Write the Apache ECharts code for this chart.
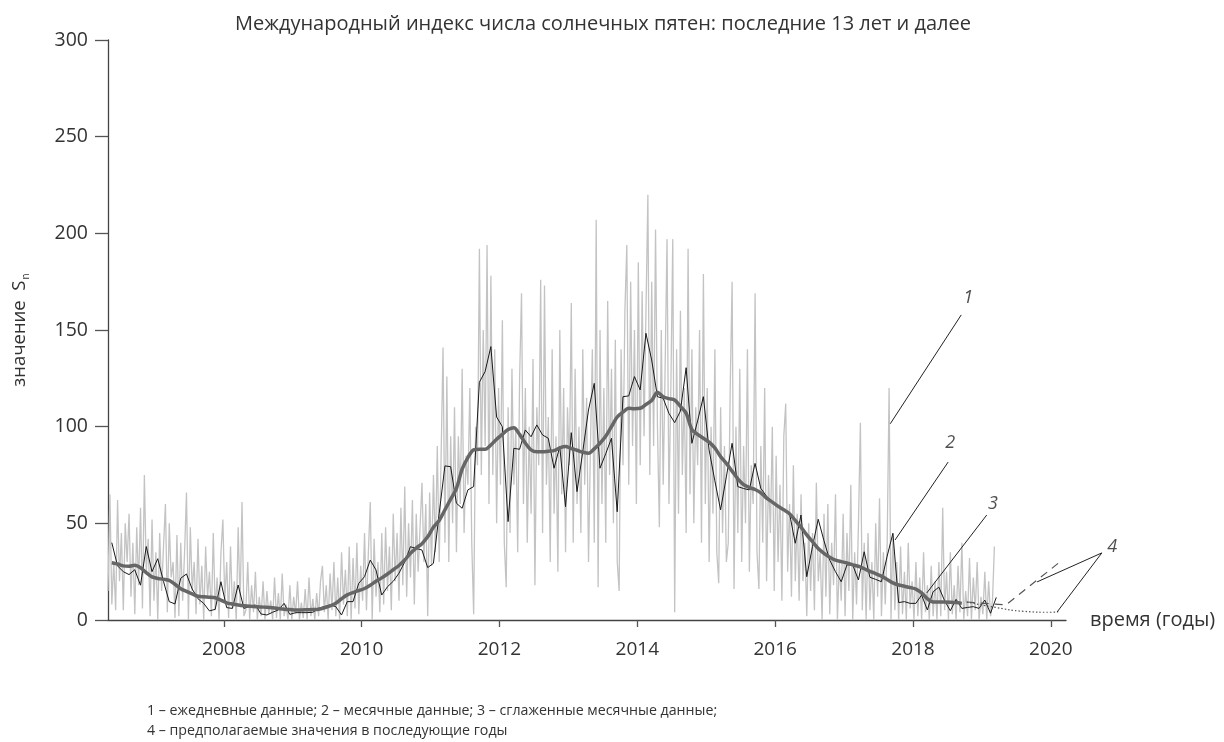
<!DOCTYPE html>
<html>
<head>
<meta charset="utf-8">
<script src="https://cdn.jsdelivr.net/npm/echarts@6/dist/echarts.min.js"></script>
<style>
  html, body { margin: 0; padding: 0; background: #fff; }
  #chart { width: 1224px; height: 742px; }
</style>
</head>
<body>
<div id="chart"></div>
<script>
// 1 – daily values, one every 1/36 year starting at dayStart
const dayStart = 2006.32;
const dailyValues = [
  15, 65, 8, 30, 5, 62, 20, 45, 5, 50, 30, 55, 12, 40, 3, 48, 18, 58, 6, 75, 25, 42, 2, 52, 10, 35, 0, 45, 15, 38, 60, 4, 50, 22, 30, 1,
  44, 2, 40, 10, 35, 66, 0, 48, 15, 30, 3, 42, 8, 28, 0, 38, 12, 25, 2, 45, 5, 22, 0, 35, 52, 10, 30, 1, 38, 6, 20, 0, 48, 8, 61, 2,
  5, 30, 0, 18, 4, 25, 0, 12, 2, 20, 0, 15, 3, 10, 0, 22, 1, 14, 0, 24, 2, 8, 0, 18, 0, 12, 3, 20, 0, 9, 1, 16, 0, 22, 2, 11,
  0, 14, 2, 20, 28, 4, 18, 0, 24, 5, 30, 2, 22, 0, 35, 8, 26, 2, 38, 0, 32, 6, 40, 3, 28, 10, 45, 5, 35, 61, 0, 42, 12, 30, 4, 45,
  8, 48, 15, 38, 5, 55, 20, 45, 10, 58, 18, 69, 12, 50, 22, 62, 8, 55, 25, 48, 71, 30, 60, 2, 66, 28, 75, 35, 90, 30, 85, 141, 40, 126, 30, 95,
  50, 110, 35, 95, 60, 130, 45, 85, 70, 120, 40, 3, 100, 80, 192, 75, 150, 90, 194, 60, 178, 75, 140, 50, 120, 70, 155, 40, 17, 110, 45, 130, 70, 100, 35, 125,
  169, 60, 120, 40, 100, 55, 135, 18, 110, 80, 176, 45, 173, 70, 105, 30, 140, 55, 95, 25, 150, 65, 120, 35, 110, 80, 164, 40, 130, 60, 100, 45, 140, 70, 115, 30,
  90, 140, 40, 207, 17, 150, 60, 120, 40, 165, 75, 130, 50, 145, 30, 15, 140, 80, 160, 194, 70, 175, 90, 150, 60, 185, 80, 170, 95, 160, 220, 75, 175, 90, 202, 100,
  48, 150, 70, 130, 197, 60, 120, 197, 4, 140, 55, 160, 75, 120, 45, 192, 65, 140, 50, 110, 80, 150, 40, 179, 60, 120, 30, 100, 55, 140, 35, 19, 110, 45, 90, 30,
  40, 120, 175, 16, 100, 45, 130, 30, 90, 50, 140, 25, 80, 60, 169, 35, 16, 90, 40, 120, 20, 75, 45, 100, 15, 85, 30, 70, 10, 95, 112, 25, 60, 12, 80, 20,
  55, 10, 65, 20, 40, 2, 50, 15, 45, 5, 71, 20, 35, 0, 55, 12, 60, 3, 40, 18, 65, 0, 30, 10, 55, 2, 45, 15, 70, 0, 35, 8, 50, 102, 5, 40,
  0, 45, 5, 30, 0, 50, 12, 63, 2, 35, 8, 40, 120, 0, 45, 5, 30, 0, 38, 3, 25, 0, 40, 6, 20, 0, 30, 2, 22, 0, 35, 4, 18, 0, 28, 2,
  20, 0, 30, 2, 58, 5, 25, 0, 35, 3, 18, 0, 28, 4, 40, 0, 15, 2, 32, 0, 22, 5, 30, 0, 12, 3, 25, 0, 20, 2, 10, 38
];

// 2 – monthly values, one per month starting at monthStart
const monthStart = 2006.375;
const monthlyValues = [
  40, 28, 25, 23.5, 26, 18, 38, 25, 31.7, 20, 9.5, 8.3, 21.6, 23.8, 16, 11, 8.6, 4.7, 5.5, 19.8,
  6.4, 6, 18.1, 6, 7, 7.8, 3.1, 2.6, 4, 5.2, 8.6, 2.9, 3.8, 3.8, 3.8, 4, 6, 7, 7.8, 6.9,
  2.6, 9.5, 9.5, 19, 22.4, 31, 25.9, 12.9, 17.2, 20, 24.2, 30, 37.9, 37, 36.2, 27.1, 29.3, 55, 79.7, 79.3,
  60.4, 57.8, 67.3, 69, 123, 128.5, 141.4, 105, 100, 50.9, 88.8, 88.3, 98.3, 94.8, 100.9, 95.7, 94, 78.5, 89.7, 58.6,
  96.9, 66.4, 87, 108.6, 122.4, 78.5, 86, 94, 56, 115.5, 115.9, 125.9, 119, 148.3, 134.5, 115.5, 114.7, 106.9, 102.1, 108,
  130.5, 91.4, 103, 115.5, 88, 72, 57, 74, 91.4, 69, 68, 67.3, 81, 68.1, 64, 61.2, 58.6, 57, 55.2, 39.7,
  54.3, 22.4, 38, 52.1, 41, 31, 25, 19.8, 28.5, 28.5, 20.7, 35.3, 22.1, 21, 19.8, 33, 44.8, 9, 9.5, 8.6,
  8.6, 12.9, 5.2, 14.6, 17, 10, 4.8, 10.7, 6, 6.5, 6.9, 6, 10.3, 3.5, 11.7
];

// 3 – smoothed monthly values, same months
const smoothedValues = [
  29.6, 29, 28, 27.8, 28.3, 27, 24.5, 22.3, 21.5, 21.1, 20.5, 18.5, 16.2, 14.8, 13.5, 12.3, 12, 11.8, 11.5, 10.3,
  8.9, 8.3, 7.8, 7.4, 7.1, 6.9, 6.7, 6.6, 6.3, 5.9, 5.5, 5.4, 5.2, 5.2, 5.3, 5.4, 5.6, 6.3, 7.3, 8.7,
  11, 13, 14.2, 15.2, 16.3, 18, 20, 21.8, 23.8, 26, 28.2, 31, 34.5, 37.2, 39.5, 43, 48, 51.5, 57, 62.5,
  68, 78, 84, 88, 88.3, 88.3, 90.5, 93.5, 96, 98.5, 99.5, 96, 91.5, 88, 87, 87, 87.3, 87.6, 89, 89.7,
  88.7, 87.8, 86.8, 86.2, 88.5, 91.4, 95, 100, 105, 107.5, 109.5, 109.3, 109.5, 111.5, 113.5, 117.8, 115.5, 114.5, 113.8, 110.5,
  107, 98.5, 96, 94, 92, 89, 84.5, 81, 77, 73, 70, 68.5, 67.5, 65.8, 63, 61, 58.8, 57, 55, 51.5,
  48, 44, 40.5, 37, 34.5, 32.5, 31, 30.2, 29.5, 28.5, 27.8, 26.5, 25.2, 24, 22.7, 21, 19.2, 18.1, 17.5, 16.8,
  16, 14, 11, 9.3, 9.3, 9.3, 9.2, 9, 8.6
];

// 4 – expected values in the following years
const forecastHigh = [[2018.78, 9.3], [2019.35, 7.8], [2020.13, 30]];
const forecastLow = [[2018.78, 9.3], [2019.2, 6.5], [2019.6, 4.5], [2020.0, 4], [2020.12, 4.3]];

const xTicks = [2008, 2010, 2012, 2014, 2016, 2018, 2020];

// callout numbers and their pointer lines (data coordinates)
const calloutLabels = [
  [2018.80, 166.6, '1'],
  [2018.54, 91.6, '2'],
  [2019.16, 60, '3'],
  [2020.89, 37.8, '4']
];
const calloutLines = [
  [[2018.70, 157.8], [2017.67, 101.5]],
  [[2018.51, 81.7], [2017.74, 41.4]],
  [[2019.07, 54.3], [2018.20, 14.0]],
  [[2020.74, 34.7], [2019.80, 19.7]],
  [[2020.74, 34.7], [2020.09, 4.1]]
];

const FONT = '"Open Sans", "Noto Sans", sans-serif';
const TEXT = '#333';

const chart = echarts.init(document.getElementById('chart'));

const option = {
  animation: false,
  backgroundColor: '#fff',
  textStyle: { fontFamily: FONT },
  title: [
    {
      text: 'Международный индекс числа солнечных пятен: последние 13 лет и далее',
      left: 598,
      top: 9,
      textAlign: 'center',
      textStyle: { fontFamily: FONT, fontSize: 20, fontWeight: 'normal', color: TEXT }
    },
    {
      text: '1 – ежедневные данные; 2 – месячные данные; 3 – сглаженные месячные данные;\n4 – предполагаемые значения в последующие годы',
      left: 142,
      top: 696,
      textStyle: { fontFamily: FONT, fontSize: 14.2, fontWeight: 'normal', color: TEXT, lineHeight: 20 }
    }
  ],
  grid: { left: 108, right: 158, top: 40, bottom: 122 },
  xAxis: {
    type: 'value',
    min: 2006.32,
    max: 2020.22,
    name: 'время (годы)',
    nameLocation: 'end',
    nameGap: 24,
    nameTextStyle: { fontFamily: FONT, fontSize: 20, color: TEXT },
    splitLine: { show: false },
    axisLine: { lineStyle: { color: '#444', width: 1.3 } },
    axisTick: { customValues: xTicks, length: 7, lineStyle: { color: '#555', width: 1.3 } },
    axisLabel: {
      customValues: xTicks,
      margin: 20,
      fontFamily: FONT,
      fontSize: 19,
      color: TEXT,
      formatter: v => String(v)
    }
  },
  yAxis: {
    type: 'value',
    min: 0,
    max: 300,
    interval: 50,
    name: '{a|значение  S}{s|n}',
    nameLocation: 'middle',
    nameGap: 77,
    nameTextStyle: {
      rich: {
        a: { fontFamily: FONT, fontSize: 18.5, color: TEXT },
        s: { fontFamily: FONT, fontSize: 10, color: TEXT, padding: [12, 0, 0, 1] }
      }
    },
    splitLine: { show: false },
    axisLine: { show: true, lineStyle: { color: '#444', width: 1.3 } },
    axisTick: { show: true, length: 13, lineStyle: { color: '#555', width: 1.3 } },
    axisLabel: { margin: 20, fontFamily: FONT, fontSize: 19.5, color: TEXT }
  },
  series: [
    {
      name: 'daily',
      type: 'line',
      data: dailyValues.map((v, i) => [dayStart + i / 36, v]),
      symbol: 'none',
      lineStyle: { color: '#c3c3c3', width: 1.3 },
      z: 1
    },
    {
      name: 'monthly',
      type: 'line',
      data: monthlyValues.map((v, i) => [monthStart + i / 12, v]),
      symbol: 'none',
      lineStyle: { color: '#1a1a1a', width: 1 },
      z: 2
    },
    {
      name: 'smoothed',
      type: 'line',
      data: smoothedValues.map((v, i) => [monthStart + i / 12, v]),
      symbol: 'none',
      smooth: 0.3,
      lineStyle: { color: '#666', width: 3.5 },
      z: 3
    },
    {
      name: 'forecast high',
      type: 'line',
      data: forecastHigh,
      symbol: 'none',
      clip: false,
      lineStyle: { color: '#555', width: 1.2, type: [8, 6] },
      z: 2
    },
    {
      name: 'forecast low',
      type: 'line',
      data: forecastLow,
      symbol: 'none',
      smooth: true,
      clip: false,
      lineStyle: { color: '#555', width: 1.2, type: [1.5, 2] },
      z: 2
    },
    {
      name: 'callout lines',
      type: 'lines',
      coordinateSystem: 'cartesian2d',
      clip: false,
      silent: true,
      data: calloutLines.map(c => ({ coords: c })),
      lineStyle: { color: '#222', width: 1, opacity: 1 },
      z: 4
    },
    {
      name: 'callout labels',
      type: 'scatter',
      clip: false,
      silent: true,
      symbolSize: 2,
      itemStyle: { color: 'rgba(0,0,0,0)' },
      data: calloutLabels,
      label: {
        show: true,
        position: 'inside',
        formatter: p => p.value[2],
        fontFamily: FONT,
        fontSize: 18,
        fontStyle: 'italic',
        color: '#222'
      },
      z: 5
    }
  ]
};

chart.setOption(option);
</script>
</body>
</html>
